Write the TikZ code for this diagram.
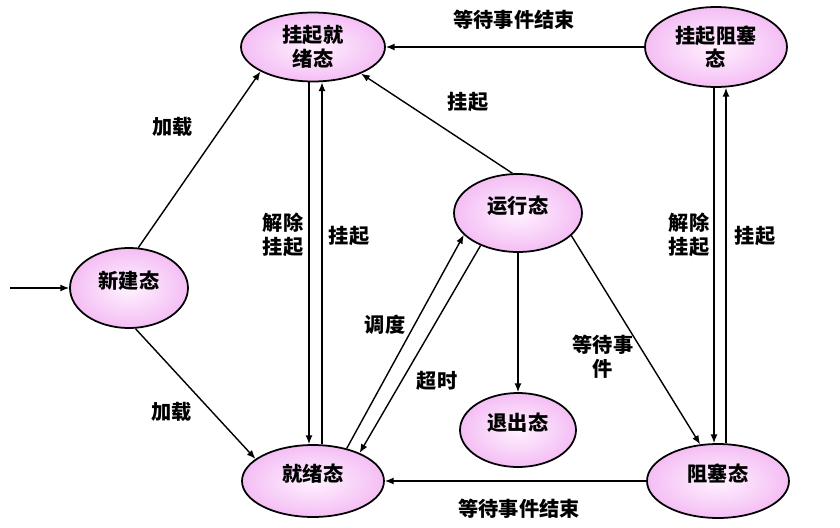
\documentclass[tikz,border=0pt]{standalone}
\usepackage{fontspec}
\newfontfamily\cjk{Noto Sans CJK SC}
\usetikzlibrary{shapes.geometric,arrows.meta}
\definecolor{stin}{RGB}{255,242,255}
\definecolor{stout}{RGB}{244,190,244}

\begin{document}
\begin{tikzpicture}[x=0.02cm,y=-0.02cm,line width=0.8pt,>={Latex[length=5pt,width=4pt]},
  state/.style={ellipse,draw,line width=1pt,inner sep=0pt,inner color=stin,outer color=stout,
    font=\cjk\bfseries\fontsize{11.5}{13.5}\selectfont,align=center},
  lifted/.style={text depth=0.32cm},
  lbl/.style={font=\cjk\bfseries\fontsize{11.5}{13.5}\selectfont,align=center}]
\useasboundingbox (0,0) rectangle (840,528);

% states
\node[state,minimum width=2.88cm,minimum height=1.38cm] (susready) at (313,47) {挂起就\\绪态};
\node[state,minimum width=2.84cm,minimum height=1.6cm] (susblock) at (716,47) {挂起阻塞\\态};
\node[state,lifted,minimum width=2.36cm,minimum height=1.6cm] (new) at (129,288) {新建态};
\node[state,lifted,minimum width=2.56cm,minimum height=1.56cm] (run) at (518,213) {运行态};
\node[state,lifted,minimum width=2.32cm,minimum height=1.48cm] (exit) at (518,430) {退出态};
\node[state,lifted,minimum width=2.84cm,minimum height=1.44cm] (ready) at (313,481) {就绪态};
\node[state,lifted,minimum width=2.84cm,minimum height=1.48cm] (block) at (718,481) {阻塞态};

% transitions
\coordinate (entry) at (10,288);
\draw[->] (entry) -- (new.west);
\draw[->] (new.77) -- (susready.205);
\draw[->] (new.279) -- (ready.159);
\draw[->] (309,0 |- susready.south) -- (309,0 |- ready.north);
\draw[->] (322,0 |- ready.north) -- (322,0 |- susready.south);
\draw[->] (714,0 |- susblock.south) -- (714,0 |- block.north);
\draw[->] (726,0 |- block.north) -- (726,0 |- susblock.south);
\draw[->] (susblock.west) -- (susready.east);
\draw[->] (block.west) -- (ready.east);
\draw[->] (run.98) -- (susready.-29);
\draw[->] (ready.44) -- (run.202);
\draw[->] (run.221) -- (ready.31);
\draw[->] (run.south) -- (exit.north);
\draw[->] (run.-23) -- (block.116);

% labels
\node[lbl] (lA) at (173,127) {加载};
\node[lbl] (lB) at (172,412) {加载};
\node[lbl] (lC) at (283,235) {解除\\挂起};
\node[lbl] (lD) at (349,236) {挂起};
\node[lbl] (lE) at (689,235) {解除\\挂起};
\node[lbl] (lF) at (755,236) {挂起};
\node[lbl] (lG) at (514,20) {等待事件结束};
\node[lbl] (lH) at (519,509) {等待事件结束};
\node[lbl] (lI) at (468,102) {挂起};
\node[lbl] (lJ) at (385,325) {调度};
\node[lbl] (lK) at (437,381) {超时};
\node[lbl] (lL) at (603,357) {等待事\\件};

\end{tikzpicture}
\end{document}
